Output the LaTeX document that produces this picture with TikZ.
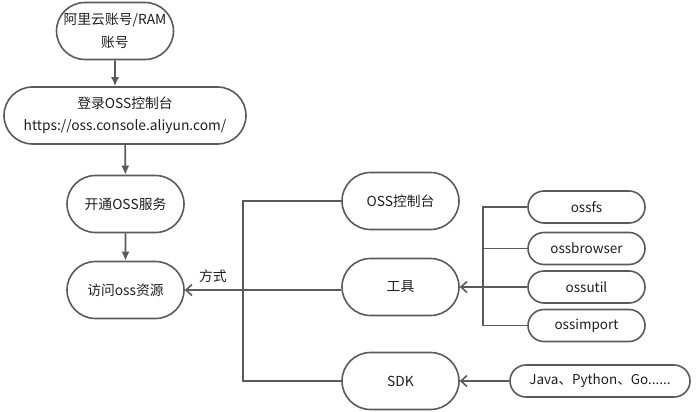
\documentclass[tikz,border=0pt]{standalone}
\usepackage{fontspec}
\setmainfont{Noto Sans CJK SC}
\usetikzlibrary{shapes.misc,arrows.meta}
\definecolor{edgegray}{HTML}{5A5A5A}
\definecolor{textgray}{HTML}{1E1E1E}
\begin{document}
\begin{tikzpicture}[x=1pt,y=-1pt,
  box/.style={rounded rectangle, draw=edgegray, line width=1.6pt, minimum width=117pt, minimum height=57pt, inner sep=0pt, align=center, text=textgray, font=\fontsize{13.8}{22.5}\selectfont},
  tag/.style={box, minimum height=32pt, font=\fontsize{13.5}{15}\selectfont},
  flow/.style={draw=edgegray, line width=1.6pt, -{Latex[length=9pt,width=8pt]}},
  feed/.style={draw=edgegray, line width=1.6pt, -{Straight Barb[length=6pt,width=11pt]}},
  bus/.style={draw=edgegray, line width=1.6pt}]
\useasboundingbox (0,0) rectangle (696,412);
\node[box] (acct) at (115,31) {阿里云账号/RAM\\账号};
\node[box, minimum width=242pt] (login) at (125,115.5) {登录OSS控制台\\https://oss.console.aliyun.com/};
\node[box] (open) at (125.5,204) {开通OSS服务};
\node[box] (access) at (125.5,290) {访问oss资源};
\node[box] (console) at (400.5,201) {OSS控制台};
\node[box] (tools) at (400.5,287) {工具};
\node[box] (sdk) at (400.5,381) {SDK};
\node[tag] (ossfs) at (586.5,207) {ossfs};
\node[tag] (browser) at (586.5,248.5) {ossbrowser};
\node[tag] (util) at (586.5,287) {ossutil};
\node[tag] (import) at (586.5,325.5) {ossimport};
\node[tag, minimum width=180pt] (lang) at (600,381) {Java、Python、Go......};
\coordinate (left) at (243,290);
\coordinate (right) at (483,287);
\draw[flow] (acct) -- (acct |- login.north);
\draw[flow] (login) -- (open);
\draw[flow] (open) -- (access);
\draw[bus] (console.west) -| (left |- sdk.west) -- (sdk.west);
\draw[feed] (tools.west |- access.east) -- (access.east) node[pos=0.82, above=3pt, text=textgray, font=\fontsize{13.8}{15}\selectfont] (way) {方式};
\draw[bus] (ossfs.west) -| (right |- import.west) -- (import.west);
\draw[bus] (browser.west) -- (browser.west -| right);
\draw[feed] (util.west) -- (tools.east);
\draw[feed] (lang.west) -- (sdk.east);
\end{tikzpicture}
\end{document}
